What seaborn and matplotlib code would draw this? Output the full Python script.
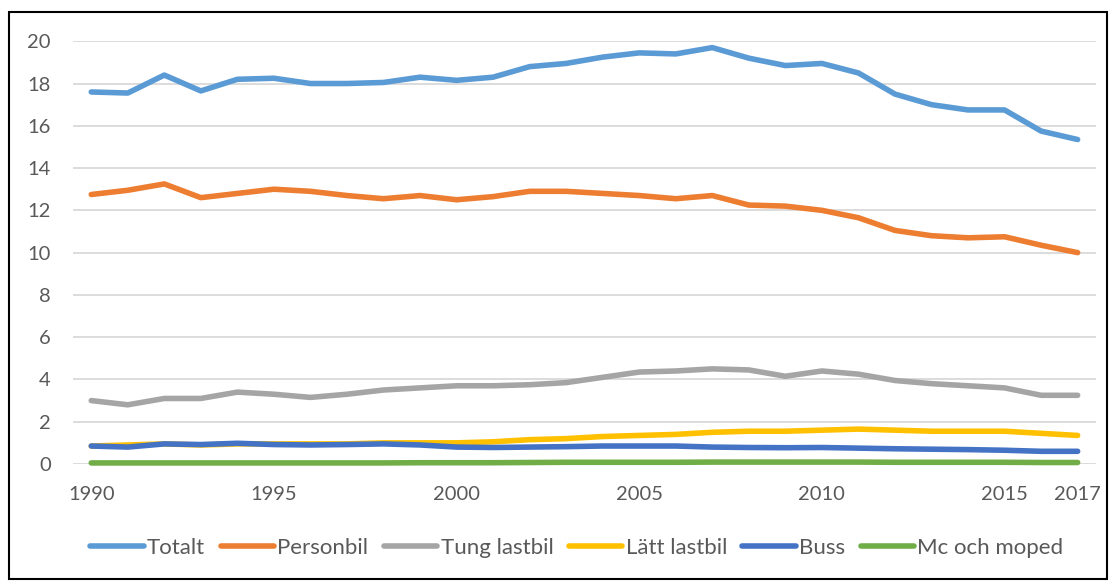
import numpy as np
import pandas as pd
import matplotlib
matplotlib.use('agg')
import matplotlib.pyplot as plt
import seaborn as sns
from matplotlib.patches import Rectangle

years = list(range(1990, 2018))

totalt = [17.6, 17.55, 18.4, 17.65, 18.2, 18.25, 18.0, 18.0, 18.05, 18.3,
          18.15, 18.3, 18.8, 18.95, 19.25, 19.45, 19.4, 19.7, 19.2, 18.85,
          18.95, 18.5, 17.5, 17.0, 16.75, 16.75, 15.75, 15.35]
personbil = [12.75, 12.95, 13.25, 12.6, 12.8, 13.0, 12.9, 12.7, 12.55, 12.7,
             12.5, 12.65, 12.9, 12.9, 12.8, 12.7, 12.55, 12.7, 12.25, 12.2,
             12.0, 11.65, 11.05, 10.8, 10.7, 10.75, 10.35, 10.0]
tung_lastbil = [3.0, 2.8, 3.1, 3.1, 3.4, 3.3, 3.15, 3.3, 3.5, 3.6,
                3.7, 3.7, 3.75, 3.85, 4.1, 4.35, 4.4, 4.5, 4.45, 4.15,
                4.4, 4.25, 3.95, 3.8, 3.7, 3.6, 3.25, 3.25]
latt_lastbil = [0.85, 0.9, 0.95, 0.9, 0.95, 0.95, 0.95, 0.95, 1.0, 1.0,
                1.0, 1.05, 1.15, 1.2, 1.3, 1.35, 1.4, 1.5, 1.55, 1.55,
                1.6, 1.65, 1.6, 1.55, 1.55, 1.55, 1.45, 1.35]
buss = [0.85, 0.8, 0.95, 0.92, 0.98, 0.92, 0.9, 0.92, 0.95, 0.9,
        0.8, 0.78, 0.8, 0.82, 0.85, 0.85, 0.85, 0.8, 0.78, 0.77,
        0.78, 0.75, 0.72, 0.7, 0.68, 0.65, 0.6, 0.6]
mc_moped = [0.05, 0.05, 0.05, 0.05, 0.05, 0.05, 0.05, 0.05, 0.05, 0.06,
            0.06, 0.06, 0.07, 0.08, 0.08, 0.08, 0.08, 0.09, 0.09, 0.09,
            0.09, 0.09, 0.08, 0.08, 0.08, 0.08, 0.07, 0.07]

series = ['Totalt', 'Personbil', 'Tung lastbil', 'Lätt lastbil', 'Buss', 'Mc och moped']
values = [totalt, personbil, tung_lastbil, latt_lastbil, buss, mc_moped]
colors = ['#5B9BD5', '#ED7D31', '#A5A5A5', '#FFC000', '#4472C4', '#70AD47']
xticks = [1990, 1995, 2000, 2005, 2010, 2015, 2017]

df = pd.DataFrame({
    'year': years * len(series),
    'value': [v for vals in values for v in vals],
    'serie': [s for s in series for _ in years],
})

sns.set_style('white')
plt.rcParams['font.family'] = ['Lato', 'DejaVu Sans']

fig = plt.figure(figsize=(11.16, 5.81), dpi=100)
ax = fig.add_axes([0.0654, 0.2014, 0.9166, 0.7276])

lw = 4.0
sns.lineplot(data=df, x='year', y='value', hue='serie', hue_order=series,
             palette=colors, linewidth=lw, ax=ax, legend=False,
             solid_capstyle='round', clip_on=False)

ax.set_xlim(1989.5, 2017.5)
ax.set_ylim(0, 20)
ax.set_yticks(np.arange(0, 21, 2))
ax.set_xticks(xticks)
ax.grid(axis='y', color='#D9D9D9', linewidth=1.3)
ax.set_axisbelow(True)
for sp in ax.spines.values():
    sp.set_visible(False)
ax.tick_params(axis='both', length=0, labelsize=14.5, labelcolor='#595959')
ax.tick_params(axis='y', pad=16)
ax.tick_params(axis='x', pad=16)
ax.set_xlabel('')
ax.set_ylabel('')

handles = [plt.Line2D([], [], color=c, linewidth=lw, solid_capstyle='round') for c in colors]
leg = fig.legend(handles, series, loc='center', bbox_to_anchor=(0.517, 0.057), ncol=6,
                 frameon=False, fontsize=16, handlelength=2.4, handletextpad=0.15,
                 columnspacing=0.7)
for t in leg.get_texts():
    t.set_color('#595959')

fig.patches.append(Rectangle((9 / 1116, 2 / 581), 1098 / 1116, 567 / 581,
                             transform=fig.transFigure, fill=False,
                             edgecolor='black', linewidth=1.5))

fig.savefig('out.png', dpi=100)
